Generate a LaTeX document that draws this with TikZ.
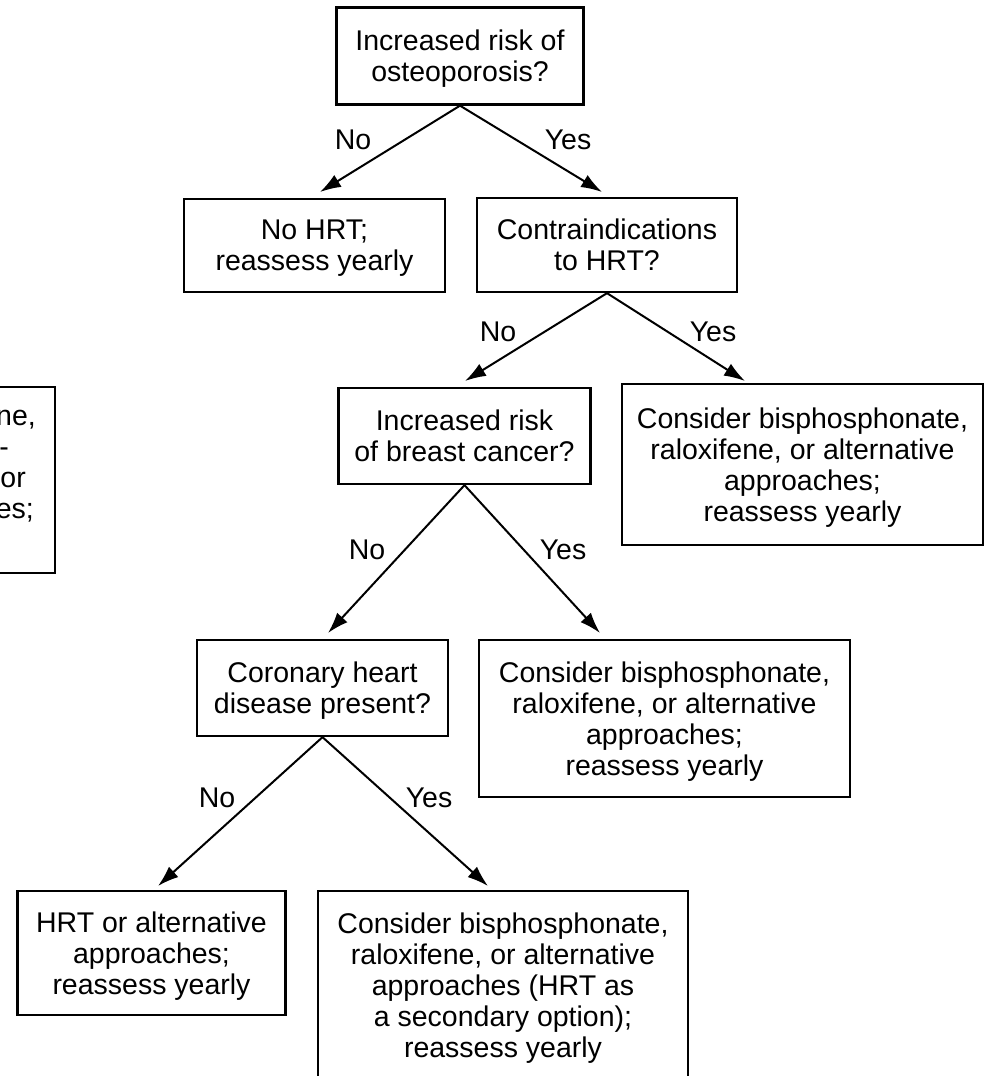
\documentclass[tikz,border=0pt]{standalone}
\usepackage{fontspec}
\setmainfont{Liberation Sans}
\usetikzlibrary{arrows.meta}
\begin{document}
\begin{tikzpicture}[x=1pt,y=-1pt,
  every node/.style={font=\fontsize{28.5}{31}\selectfont},
  box/.style={draw, line width=2.3pt, align=center, inner sep=0pt, text depth=-1.5pt},
  lbl/.style={inner sep=0pt},
  arr/.style={line width=2pt, -{Latex[length=21pt,width=14pt]}}]
\useasboundingbox (0,0) rectangle (985,1076);
\clip (0,0) rectangle (985,1076);

% decision and outcome boxes
\node[box, minimum width=247pt, minimum height=97pt] (q1) at (460,56)
  {Increased risk of\\osteoporosis?};
\node[box, minimum width=261pt, minimum height=93pt] (nohrt) at (314.5,245.5)
  {No HRT;\\reassess yearly};
\node[box, minimum width=260pt, minimum height=94pt] (contra) at (607,245)
  {Contraindications\\to HRT?};
\node[box, minimum width=252pt, minimum height=96pt] (breast) at (464.5,436)
  {Increased risk\\of breast cancer?};
\node[box, minimum width=361pt, minimum height=161pt] (alt1) at (802.5,464.5)
  {Consider bisphosphonate,\\raloxifene, or alternative\\approaches;\\reassess yearly};
\node[box, minimum width=251pt, minimum height=96pt] (chd) at (322.5,688)
  {Coronary heart\\disease present?};
\node[box, minimum width=371pt, minimum height=157pt] (alt2) at (664.5,718.5)
  {Consider bisphosphonate,\\raloxifene, or alternative\\approaches;\\reassess yearly};
\node[box, minimum width=268pt, minimum height=124pt] (hrtalt) at (151.5,953)
  {HRT or alternative\\approaches;\\reassess yearly};
\node[box, minimum width=370pt, minimum height=188pt] (alt3) at (503,985)
  {Consider bisphosphonate,\\raloxifene, or alternative\\approaches (HRT as\\a secondary option);\\reassess yearly};

% box running off the left edge
\draw[line width=2.3pt] (-30,387) -- (55,387) -- (55,573) -- (-30,573);
\node[lbl, anchor=base east] (e1) at (36,425) {ne,};
\node[lbl, anchor=base east] (e2) at (9,456) {-};
\node[lbl, anchor=base east] (e3) at (26,487) {or};
\node[lbl, anchor=base east] (e4) at (34,518) {es;};

% arrow end points
\coordinate (t1) at (320,192);
\coordinate (t2) at (602,192);
\coordinate (t3) at (465,381);
\coordinate (t4) at (745,381);
\coordinate (t5) at (328,633);
\coordinate (t6) at (600,633);
\coordinate (t7) at (158,886);
\coordinate (t8) at (488,886);

% connectors
\draw[arr] (q1.south) -- (t1);
\draw[arr] (q1.south) -- (t2);
\draw[arr] (contra.south) -- (t3);
\draw[arr] (contra.south) -- (t4);
\draw[arr] (breast.south) -- (t5);
\draw[arr] (breast.south) -- (t6);
\draw[arr] (chd.south) -- (t7);
\draw[arr] (chd.south) -- (t8);

% branch labels
\node[lbl] (n1) at (353,140) {No};
\node[lbl] (y1) at (568,140) {Yes};
\node[lbl] (n2) at (498,332) {No};
\node[lbl] (y2) at (713,332) {Yes};
\node[lbl] (n3) at (367,550) {No};
\node[lbl] (y3) at (563,550) {Yes};
\node[lbl] (n4) at (217,798) {No};
\node[lbl] (y4) at (429,798) {Yes};
\end{tikzpicture}
\end{document}
